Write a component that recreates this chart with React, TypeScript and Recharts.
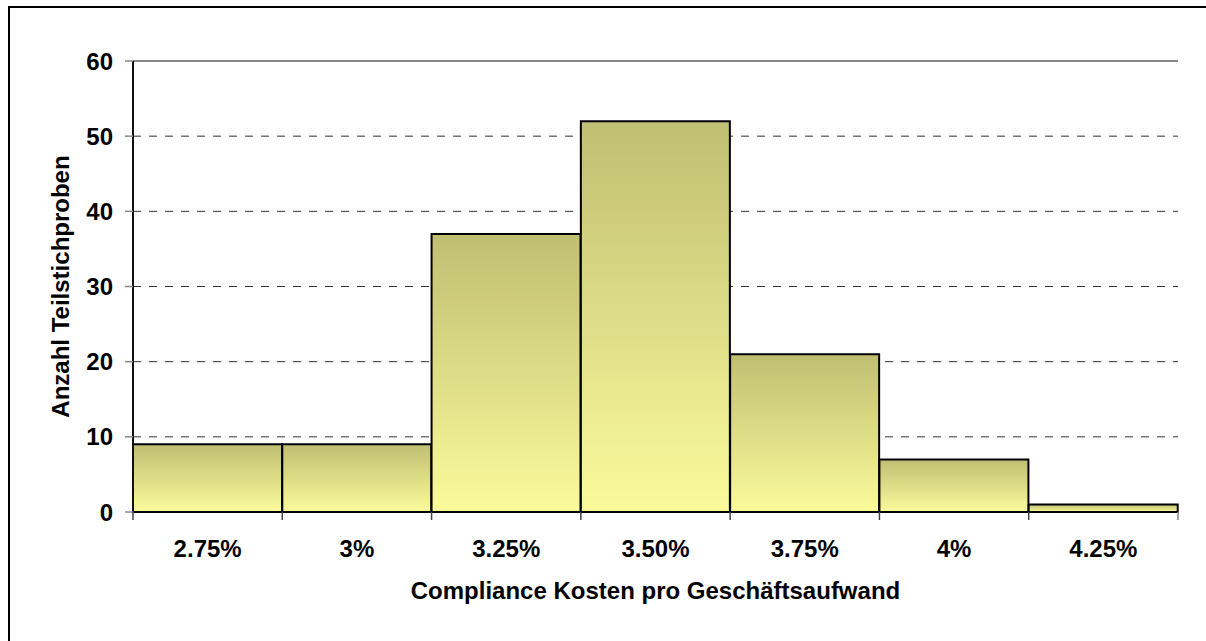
import React from 'react';
import { BarChart, Bar, XAxis, YAxis, CartesianGrid, ReferenceLine, Label } from 'recharts';

// Histogram bins and counts
const bins = ['2.75%', '3%', '3.25%', '3.50%', '3.75%', '4%', '4.25%'];
const counts = [9, 9, 37, 52, 21, 7, 1];
const yTicks = [0, 10, 20, 30, 40, 50, 60];

const xTitle = 'Compliance Kosten pro Geschäftsaufwand';
const yTitle = 'Anzahl Teilstichproben';

const data = bins.map((bin, i) => ({ bin, count: counts[i] }));

const FONT = '"Liberation Sans", Arial, Helvetica, sans-serif';
const tickStyle = { fill: '#000', fontSize: 24, fontWeight: 700, fontFamily: FONT };

// category label in the middle, tick marks on the bin edges
const BinTick = (props: any) => {
  const { x, y, payload, index } = props;
  const half = payload.offset || 0;
  const last = index === bins.length - 1;
  return (
    <g>
      <line x1={x - half} x2={x - half} y1={y} y2={y + 8} stroke="#444" strokeWidth={1.5} />
      {last && <line x1={x + half} x2={x + half} y1={y} y2={y + 8} stroke="#888" strokeWidth={1.5} />}
      <text x={x} y={y + 36} dy="0.355em" textAnchor="middle" {...tickStyle}>
        {payload.value}
      </text>
    </g>
  );
};

const App: React.FC = () => {
  return (
    <div style={{ position: 'fixed', left: 0, top: 0, width: 1206, height: 641, overflow: 'hidden', background: '#fff' }}>
      {/* outer chart frame: only left and top edges fall inside the picture */}
      <div style={{ position: 'absolute', left: 8, top: 6, width: 1198, height: 635, borderLeft: '2px solid #000', borderTop: '2px solid #000', boxSizing: 'border-box' }} />
      <div style={{ position: 'absolute', left: 0, top: 0 }}>
        <BarChart
          width={1206}
          height={641}
          data={data}
          margin={{ top: 61, right: 28, bottom: 29, left: 0 }}
          barCategoryGap={0}
          barGap={0}
        >
          <defs>
            <linearGradient id="barFill" x1="0" y1="0" x2="0" y2="1">
              <stop offset="0%" stopColor="#c0be72" />
              <stop offset="100%" stopColor="#fbfb9c" />
            </linearGradient>
          </defs>
          <CartesianGrid vertical={false} stroke="#333" strokeDasharray="8 8" />
          <ReferenceLine y={60} stroke="#888" strokeWidth={2} />
          <XAxis
            dataKey="bin"
            interval={0}
            tickLine={false}
            axisLine={{ stroke: '#000', strokeWidth: 2 }}
            tickSize={0}
            tickMargin={0}
            tick={<BinTick />}
            height={100}
          >
            <Label
              content={({ viewBox }: any) => (
                <text
                  x={viewBox.x + viewBox.width / 2}
                  y={viewBox.y + 87}
                  textAnchor="middle"
                  fill="#000"
                  fontSize={24}
                  fontWeight={700}
                  fontFamily={FONT}
                >
                  {xTitle}
                </text>
              )}
            />
          </XAxis>
          <YAxis
            domain={[0, 60]}
            ticks={yTicks}
            width={133}
            axisLine={{ stroke: '#111', strokeWidth: 2 }}
            tickLine={{ stroke: '#888', strokeWidth: 1.5 }}
            tickSize={8}
            tickMargin={12}
            tick={tickStyle}
          >
            <Label
              content={({ viewBox }: any) => {
                const cx = viewBox.x + 60;
                const cy = viewBox.y + viewBox.height / 2;
                return (
                  <text
                    x={cx}
                    y={cy}
                    dy="0.355em"
                    transform={`rotate(-90, ${cx}, ${cy})`}
                    textAnchor="middle"
                    fill="#000"
                    fontSize={24}
                    fontWeight={700}
                    fontFamily={FONT}
                  >
                    {yTitle}
                  </text>
                );
              }}
            />
          </YAxis>
          <YAxis
            yAxisId="frame"
            orientation="right"
            width={0}
            domain={[0, 60]}
            tick={false}
            tickLine={false}
            axisLine={{ stroke: '#888', strokeWidth: 2 }}
          />
          <Bar
            dataKey="count"
            fill="url(#barFill)"
            stroke="#000"
            strokeWidth={2}
            isAnimationActive={false}
          />
        </BarChart>
      </div>
    </div>
  );
};

export default App;
